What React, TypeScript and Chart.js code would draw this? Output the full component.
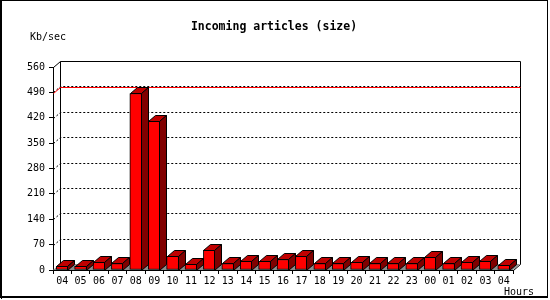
import React, { useEffect, useRef } from 'react';
import { Chart, registerables } from 'chart.js';

Chart.register(...registerables);

const hours = ['04', '05', '06', '07', '08', '09', '10', '11', '12', '13', '14', '15', '16', '17', '18', '19', '20', '21', '22', '23', '00', '01', '02', '03', '04'];
const kbPerSec = [10, 10, 21, 18, 487, 410, 38, 16, 55, 18, 24, 24, 29, 40, 18, 18, 21, 18, 18, 18, 35, 18, 21, 24, 13];
const yMin = 0;
const yMax = 560;
const yStep = 70;
const titleText = 'Incoming articles (size)';
const yUnitText = 'Kb/sec';
const xUnitText = 'Hours';

const DX = 7;
const DY = 6;
const MONO = "'DejaVu Sans Mono', 'Liberation Mono', monospace";

const h = (v: number) => Math.round(v) + 0.5;

const threeD = {
  id: 'threeD',
  beforeDatasetsDraw(chart: any) {
    const { ctx, chartArea, scales } = chart;
    const { left, right, top, bottom } = chartArea;
    const y = scales.y;
    ctx.save();
    // floor
    ctx.fillStyle = '#8c8c8c';
    ctx.beginPath();
    ctx.moveTo(left, bottom);
    ctx.lineTo(right, bottom);
    ctx.lineTo(right + DX, bottom - DY);
    ctx.lineTo(left + DX, bottom - DY);
    ctx.closePath();
    ctx.fill();
    // dotted grid on back wall
    ctx.lineWidth = 1;
    ctx.strokeStyle = '#000';
    ctx.setLineDash([2, 2]);
    y.ticks.forEach((t: any) => {
      if (t.value <= yMin || t.value >= yMax) return;
      const py = y.getPixelForValue(t.value);
      ctx.beginPath();
      ctx.moveTo(h(left), h(py));
      ctx.lineTo(h(left + DX), h(py - DY));
      ctx.lineTo(h(right + DX), h(py - DY));
      ctx.stroke();
    });
    ctx.setLineDash([]);
    // back wall frame
    ctx.beginPath();
    ctx.moveTo(h(left), h(top));
    ctx.lineTo(h(left + DX), h(top - DY));
    ctx.lineTo(h(right + DX), h(top - DY));
    ctx.lineTo(h(right + DX), h(bottom - DY));
    ctx.lineTo(h(right), h(bottom));
    ctx.moveTo(h(left + DX), h(top - DY));
    ctx.lineTo(h(left + DX), h(bottom - DY));
    ctx.stroke();
    // max line
    const maxV = Math.max(...kbPerSec);
    const pm = y.getPixelForValue(maxV);
    ctx.strokeStyle = '#ff0000';
    ctx.beginPath();
    ctx.moveTo(h(left), h(pm));
    ctx.lineTo(h(left + DX), h(pm - DY));
    ctx.lineTo(h(right + DX), h(pm - DY));
    ctx.stroke();
    ctx.restore();
  },
  afterDatasetsDraw(chart: any) {
    const { ctx } = chart;
    const meta = chart.getDatasetMeta(0);
    ctx.save();
    ctx.lineWidth = 1;
    ctx.strokeStyle = '#000';
    meta.data.forEach((bar: any) => {
      const p = bar.getProps(['x', 'y', 'base', 'width'], true);
      const l = h(p.x - p.width / 2);
      const r = h(p.x + p.width / 2) - 1;
      const t = h(p.y);
      const b = h(p.base);
      // top face
      ctx.fillStyle = '#c00000';
      ctx.beginPath();
      ctx.moveTo(l, t);
      ctx.lineTo(l + DX, t - DY);
      ctx.lineTo(r + DX, t - DY);
      ctx.lineTo(r, t);
      ctx.closePath();
      ctx.fill();
      ctx.stroke();
      // side face
      ctx.fillStyle = '#800000';
      ctx.beginPath();
      ctx.moveTo(r, t);
      ctx.lineTo(r + DX, t - DY);
      ctx.lineTo(r + DX, b - DY);
      ctx.lineTo(r, b);
      ctx.closePath();
      ctx.fill();
      ctx.stroke();
    });
    ctx.restore();
  },
  afterDraw(chart: any) {
    const { ctx } = chart;
    ctx.save();
    ctx.fillStyle = '#000';
    ctx.textBaseline = 'middle';
    ctx.font = `bold 11.5px ${MONO}`;
    ctx.textAlign = 'center';
    ctx.fillText(titleText, 274, 27);
    ctx.font = `10px ${MONO}`;
    ctx.textAlign = 'left';
    ctx.fillText(yUnitText, 30, 37);
    ctx.fillText(xUnitText, 504, 292);
    // outer frame
    ctx.strokeStyle = '#000';
    ctx.lineWidth = 1;
    ctx.strokeRect(0.5, 0.5, 547, 297);
    ctx.beginPath();
    ctx.moveTo(1.5, 0);
    ctx.lineTo(1.5, 299);
    ctx.moveTo(0, 296.5);
    ctx.lineTo(548, 296.5);
    ctx.stroke();
    ctx.restore();
  },
};

export default function App() {
  const ref = useRef<HTMLCanvasElement>(null);
  useEffect(() => {
    if (!ref.current) return;
    const chart = new Chart(ref.current, {
      type: 'bar',
      data: {
        labels: hours,
        datasets: [
          {
            data: kbPerSec,
            backgroundColor: '#ff0000',
            borderColor: '#000000',
            borderWidth: 1,
            borderSkipped: false,
            barThickness: 12,
          },
        ],
      },
      options: {
        animation: false,
        responsive: false,
        devicePixelRatio: 1,
        layout: { padding: { left: 0, top: 67, right: 37, bottom: 0 } },
        plugins: { legend: { display: false }, tooltip: { enabled: false }, title: { display: false } },
        scales: {
          x: {
            offset: true,
            afterFit: (s: any) => { s.height = 30; },
            grid: { drawOnChartArea: false, drawTicks: true, tickLength: 4, color: '#000', offset: true },
            border: { display: true, color: '#000', width: 1 },
            ticks: { color: '#000', font: { family: MONO, size: 10 }, maxRotation: 0, autoSkip: false, padding: 1 },
          },
          y: {
            min: yMin,
            max: yMax,
            afterFit: (s: any) => { s.width = 53; },
            grid: { drawOnChartArea: false, drawTicks: true, tickLength: 4, color: '#000' },
            border: { display: true, color: '#000', width: 1 },
            ticks: { stepSize: yStep, color: '#000', font: { family: MONO, size: 10 }, padding: 4 },
          },
        },
      },
      plugins: [threeD],
    });
    return () => chart.destroy();
  }, []);
  return (
    <div style={{ position: 'absolute', left: 0, top: 0, width: 550, height: 300, background: '#fff' }}>
      <canvas ref={ref} width={550} height={300} />
    </div>
  );
}
